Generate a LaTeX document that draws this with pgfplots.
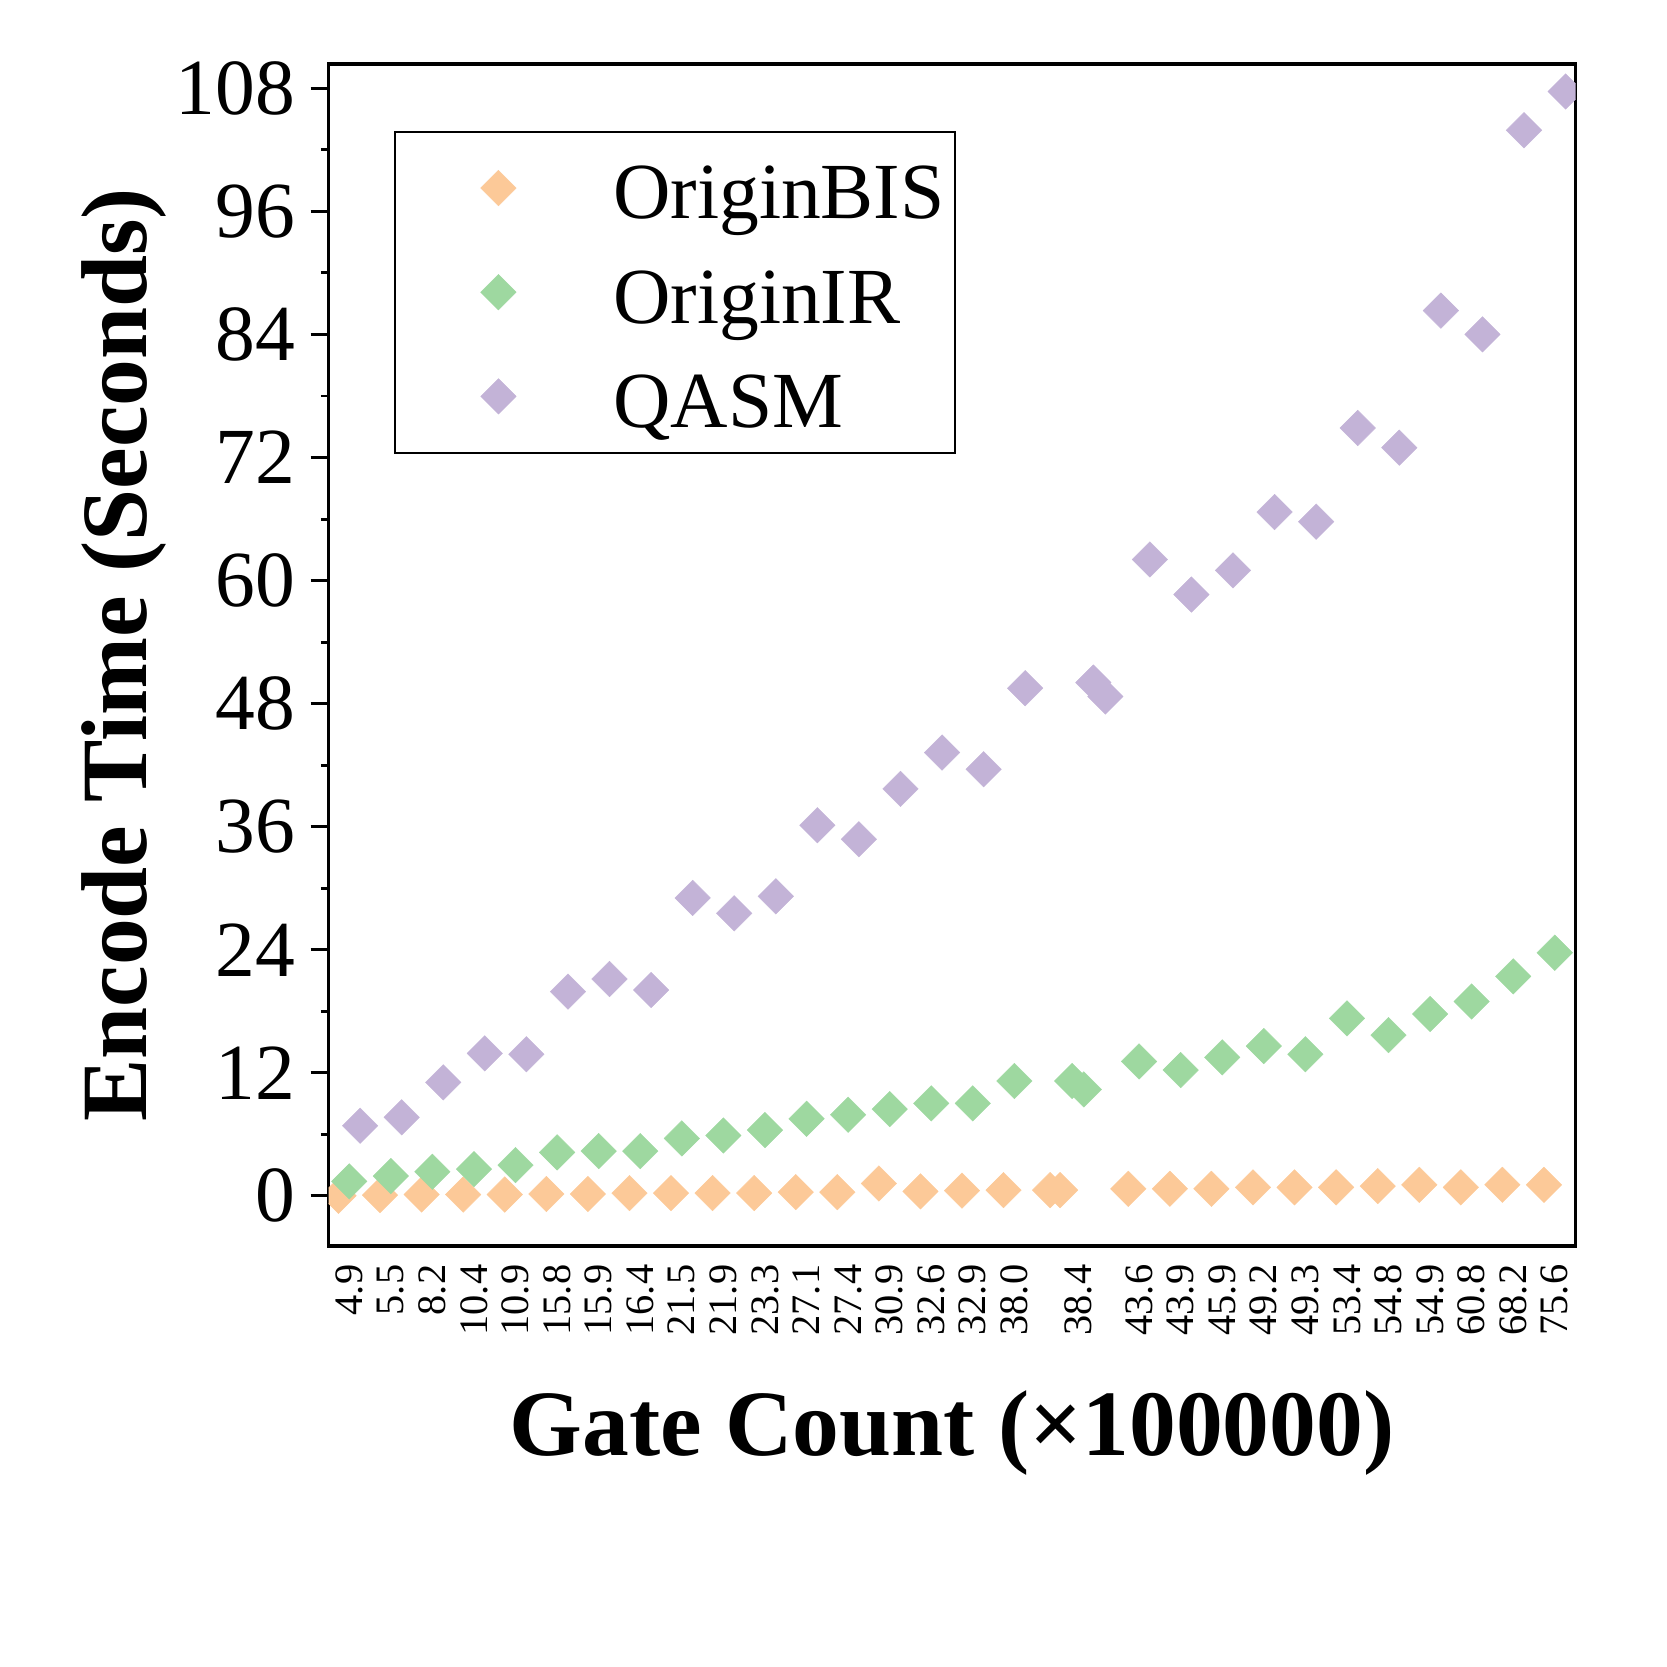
\documentclass[border=0pt]{standalone}
\usepackage{pgfplots}
\pgfplotsset{compat=1.18}
\usepackage{fontspec}
\setmainfont{Liberation Serif}
\definecolor{cBIS}{RGB}{252,201,152}
\definecolor{cIR}{RGB}{158,216,160}
\definecolor{cQASM}{RGB}{195,179,215}
\pgfplotsset{legend image code/.code={\path[draw=none] (0pt,0pt) -- (48.75pt,0pt); \draw[#1] plot coordinates {(21.75pt,0pt)};}}
\begin{document}
\begin{tikzpicture}
\useasboundingbox (-77.25pt,-99pt) rectangle (314.75pt,293pt);
\begin{axis}[
  at={(0pt,0pt)}, anchor=south west,
  scale only axis, width=293.25pt, height=278pt,
  xmin=-0.5, xmax=29.5, ymin=-4.9, ymax=110.4,
  xtick={0,1,2,3,4,5,6,7,8,9,10,11,12,13,14,15,16,17.53,19,20,21,22,23,24,25,26,27,28,29},
  xticklabels={4.9,5.5,8.2,10.4,10.9,15.8,15.9,16.4,21.5,21.9,23.3,27.1,27.4,30.9,32.6,32.9,38.0,38.4,43.6,43.9,45.9,49.2,49.3,53.4,54.8,54.9,60.8,68.2,75.6},
  ytick={0,12,...,108}, minor y tick num=1,
  ytick pos=left, xtick pos=bottom,
  tick align=outside,
  major tick length=4.2pt, minor tick length=1.8pt,
  tick style={line width=0.7pt, black},
  xtick style={draw=none},
  axis line style={line width=0.9pt},
  /pgf/number format/assume math mode=true,
  yticklabel style={font=\fontsize{18.7}{18.7}\selectfont, inner sep=0pt, anchor=east, xshift=-3.5pt},
  xticklabel style={rotate=90, anchor=east, font=\fontsize{9.5}{9.5}\selectfont, inner sep=0pt},
  xlabel={Gate Count (×100000)},
  ylabel={Encode Time (Seconds)},
  xlabel style={at={(axis description cs:0.5,-0.177)}, anchor=base, font=\fontsize{22}{22}\selectfont\bfseries},
  ylabel style={at={(axis description cs:-0.1458,0.5)}, anchor=base, font=\fontsize{22}{22}\selectfont\bfseries},
  clip marker paths=true,
  legend cell align=left,
  legend style={at={(axis description cs:0.0529,0.9433)}, anchor=north west, draw=black, line width=0.4pt,
    inner xsep=2.5pt, inner ysep=5pt, row sep=8pt, font=\fontsize{18.7}{18.7}\selectfont,
    nodes={inner sep=0pt, text height=15.5pt, text depth=1pt},
    /tikz/every even column/.append style={column sep=0pt}},
]
\addplot[only marks, color=cBIS, mark=square*, mark size=2.95pt, mark options={rotate=45, draw=cBIS, fill=cBIS, line width=0.1pt}]
  table[row sep=\\]{
  x y\\
  -0.26 0.00\\ 0.74 0.06\\ 1.74 0.12\\ 2.74 0.12\\ 3.74 0.12\\ 4.74 0.17\\ 5.74 0.17\\ 6.74 0.26\\
  7.74 0.26\\ 8.74 0.26\\ 9.74 0.26\\ 10.74 0.35\\ 11.74 0.35\\ 12.74 1.20\\ 13.74 0.43\\ 14.74 0.50\\
  15.74 0.55\\ 16.86 0.55\\ 17.10 0.55\\ 18.74 0.68\\ 19.74 0.68\\ 20.74 0.68\\ 21.74 0.82\\ 22.74 0.82\\
  23.74 0.82\\ 24.74 0.94\\ 25.74 1.07\\ 26.74 0.82\\ 27.74 1.07\\ 28.74 1.07\\
  };
\addlegendentry{OriginBIS}
\addplot[only marks, color=cIR, mark=square*, mark size=2.95pt, mark options={rotate=45, draw=cIR, fill=cIR, line width=0.1pt}]
  table[row sep=\\]{
  x y\\
  0 1.40\\ 1 1.92\\ 2 2.34\\ 3 2.60\\ 4 2.99\\ 5 4.23\\ 6 4.36\\ 7 4.36\\ 8 5.59\\ 9 5.88\\
  10 6.41\\ 11 7.51\\ 12 7.90\\ 13 8.45\\ 14 9.01\\ 15 9.01\\ 16 11.19\\ 17.39 11.19\\ 17.67 10.37\\
  19 13.10\\ 20 12.26\\ 21 13.50\\ 22 14.60\\ 23 13.80\\ 24 17.30\\ 25 15.67\\ 26 17.73\\ 27 18.95\\
  28 21.40\\ 29 23.70\\
  };
\addlegendentry{OriginIR}
\addplot[only marks, color=cQASM, mark=square*, mark size=2.95pt, mark options={rotate=45, draw=cQASM, fill=cQASM, line width=0.1pt}]
  table[row sep=\\]{
  x y\\
  0.26 6.83\\ 1.26 7.65\\ 2.26 11.06\\ 3.26 13.89\\ 4.26 13.80\\ 5.26 19.91\\ 6.26 21.14\\ 7.26 20.07\\
  8.26 29.05\\ 9.26 27.55\\ 10.26 29.21\\ 11.26 36.14\\ 12.26 34.77\\ 13.26 39.68\\ 14.26 43.23\\
  15.26 41.60\\ 16.26 49.50\\ 17.90 50.05\\ 18.19 48.69\\ 19.26 62.06\\ 20.26 58.64\\ 21.26 60.99\\
  22.26 66.68\\ 23.26 65.74\\ 24.26 74.88\\ 25.26 72.96\\ 26.26 86.33\\ 27.26 84.01\\ 28.26 103.92\\
  29.26 107.70\\
  };
\addlegendentry{QASM}
\end{axis}
\end{tikzpicture}
\end{document}
